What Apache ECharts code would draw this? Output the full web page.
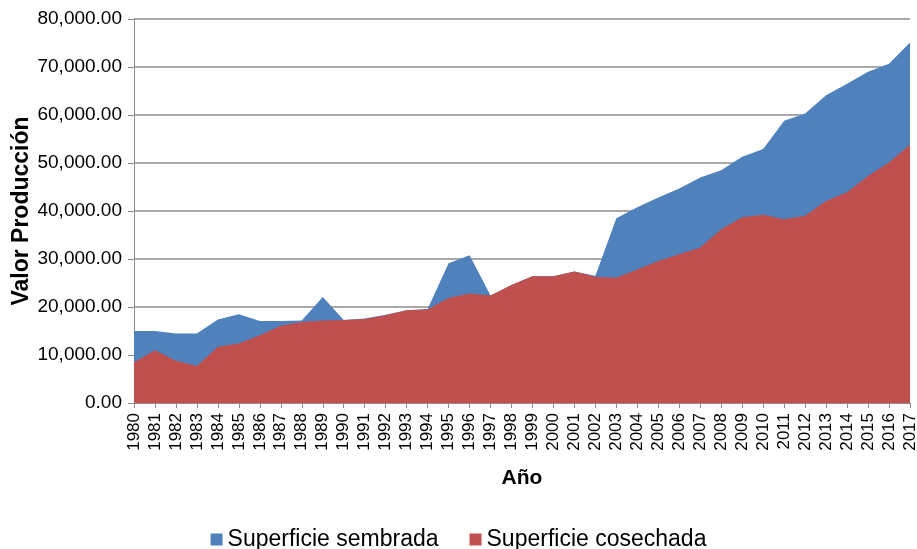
<!DOCTYPE html>
<html>
<head>
<meta charset="utf-8">
<script src="https://cdn.jsdelivr.net/npm/echarts@6/dist/echarts.min.js"></script>
<style>
  html, body { margin: 0; padding: 0; background: #fff; }
  #chart { width: 917px; height: 549px; }
</style>
</head>
<body>
<div id="chart"></div>
<script>
const years = [
  "1980", "1981", "1982", "1983", "1984", "1985", "1986", "1987", "1988", "1989",
  "1990", "1991", "1992", "1993", "1994", "1995", "1996", "1997", "1998", "1999",
  "2000", "2001", "2002", "2003", "2004", "2005", "2006", "2007", "2008", "2009",
  "2010", "2011", "2012", "2013", "2014", "2015", "2016", "2017"
]

// Superficie sembrada (azul)
const sembrada = [
  15000, 15000, 14500, 14500, 17400, 18500, 17100, 17100, 17200, 22100,
  17300, 17600, 18400, 19300, 19600, 29100, 30800, 22400, 24600, 26400,
  26400, 27400, 26500, 38500, 40800, 42800, 44700, 47000, 48500, 51300,
  52900, 58800, 60300, 64100, 66500, 69000, 70700, 75100
]

// Superficie cosechada (rojo)
const cosechada = [
  8500, 11000, 8800, 7700, 11700, 12400, 14100, 16100, 16900, 17200,
  17300, 17500, 18300, 19300, 19500, 21900, 22800, 22400, 24600, 26400,
  26400, 27400, 26300, 26100, 27800, 29600, 31000, 32400, 36200, 38700,
  39200, 38300, 39000, 42100, 43900, 47300, 50100, 53800
]

const seriesNames = ["Superficie sembrada", "Superficie cosechada"]
const colors = ["#4f81bd", "#c0504d"]
const font = "Liberation Sans, Arial, sans-serif"
const gray = "#8c8c8c"

const chart = echarts.init(document.getElementById("chart"))

const option = {
  animation: false,
  textStyle: { fontFamily: font },
  grid: {
    left: 134,
    right: 7,
    top: 19,
    bottom: 146,
    outerBoundsMode: "none"
  },
  legend: {
    data: seriesNames,
    top: 523,
    left: "center",
    icon: "rect",
    itemWidth: 12,
    itemHeight: 12,
    itemGap: 31,
    textStyle: { fontSize: 23, color: "#000", fontFamily: font }
  },
  xAxis: {
    type: "category",
    data: years,
    boundaryGap: false,
    name: "Año",
    nameLocation: "middle",
    nameGap: 65,
    nameMoveOverlap: false,
    nameTextStyle: { fontSize: 21, fontWeight: "bold", color: "#000" },
    axisLine: { lineStyle: { color: gray } },
    axisTick: { alignWithLabel: true, length: 5, lineStyle: { color: gray } },
    axisLabel: {
      rotate: 90,
      interval: 0,
      margin: 10,
      fontSize: 17,
      color: "#000"
    }
  },
  yAxis: {
    type: "value",
    min: 0,
    max: 80000,
    interval: 10000,
    name: "Valor Producción",
    nameLocation: "middle",
    nameGap: 101,
    nameMoveOverlap: false,
    nameTextStyle: { fontSize: 23, fontWeight: "bold", color: "#000" },
    axisLine: { show: true, lineStyle: { color: gray } },
    axisTick: { show: true, length: 6, lineStyle: { color: gray } },
    splitLine: { lineStyle: { color: gray, width: 1.5 } },
    axisLabel: {
      fontSize: 19,
      color: "#000",
      margin: 12,
      formatter: (value) => value.toLocaleString("en-US", { minimumFractionDigits: 2, maximumFractionDigits: 2 })
    }
  },
  series: [
    {
      name: seriesNames[0],
      type: "line",
      data: sembrada,
      symbol: "none",
      lineStyle: { width: 0 },
      itemStyle: { color: colors[0] },
      areaStyle: { color: colors[0], opacity: 1 }
    },
    {
      name: seriesNames[1],
      type: "line",
      data: cosechada,
      symbol: "none",
      lineStyle: { width: 0 },
      itemStyle: { color: colors[1] },
      areaStyle: { color: colors[1], opacity: 1 }
    }
  ]
}

chart.setOption(option)
</script>
</body>
</html>
